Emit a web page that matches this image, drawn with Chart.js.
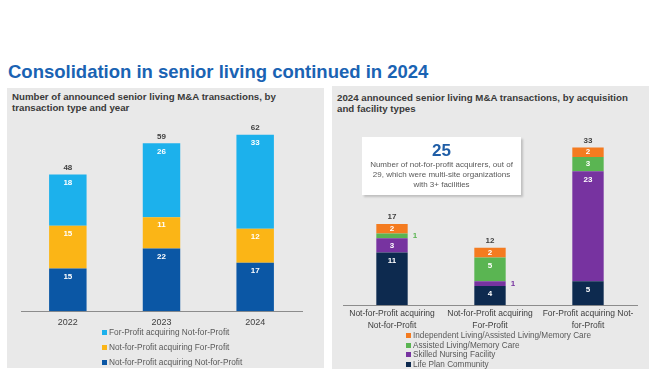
<!DOCTYPE html>
<html>
<head>
<meta charset="utf-8">
<script src="https://cdn.jsdelivr.net/npm/chart.js@4.4.1/dist/chart.umd.min.js"></script>
<style>
  html, body { margin:0; padding:0; background:#fff; width:660px; height:371px; overflow:hidden; font-family:"Liberation Sans", Arial, sans-serif; }
  .abs { position:absolute; }
  #title { left:8px; top:61px; font-size:18.5px; font-weight:bold; color:#1a63b3; white-space:nowrap; }
  .panel { position:absolute; width:317px; background:#e9e9e9; }
  .head { position:absolute; font-size:9.7px; font-weight:bold; color:#3a3a3a; line-height:11px; white-space:nowrap; }
  .legend { position:absolute; color:#595959; white-space:nowrap; }
  .legend .it { display:flex; align-items:center; }
  .legend .sw { display:inline-block; width:5px; height:5px; margin-right:2px; }
  #callout { left:362px; top:137px; width:159px; height:58px; background:#fff; box-shadow:2px 2px 2px rgba(0,0,0,0.18); text-align:center; color:#595959; font-size:8px; line-height:10px; }
  #callout .big { font-size:17px; font-weight:bold; color:#1f5da6; line-height:19px; margin-top:4px; }
</style>
</head>
<body>
<div id="title" class="abs">Consolidation in senior living continued in 2024</div>
<div class="panel" style="left:7px; top:88px; height:280px;"></div>
<div class="panel" style="left:332px; top:86px; height:283px;"></div>
<div class="head" style="left:12px; top:91px;">Number of announced senior living M&amp;A transactions, by<br>transaction type and year</div>
<div class="head" style="left:337px; top:92px;">2024 announced senior living M&amp;A transactions, by acquisition<br>and facility types</div>
<canvas id="c1" class="abs" style="left:7px; top:112px;" width="317" height="222"></canvas>
<canvas id="c2" class="abs" style="left:333px; top:114px;" width="315" height="221"></canvas>
<div id="callout" class="abs"><div class="big">25</div>Number of not-for-profit acquirers, out of<br>29, which were multi-site organizations<br>with 3+ facilities</div>
<div id="leg1" class="legend" style="left:102px; top:325px; font-size:8.3px; line-height:15px;"></div>
<div id="leg2" class="legend" style="left:406px; top:331px; font-size:8.2px; line-height:9.5px;"></div>
<script>
// ---- Left chart data ----
const years = ["2022", "2023", "2024"];
const nfpAcqNfp = [15, 22, 17];
const nfpAcqFp = [15, 11, 12];
const fpAcqNfp = [18, 26, 33];
const leftSeriesNames = ["Not-for-Profit acquiring Not-for-Profit", "Not-for-Profit acquiring For-Profit", "For-Profit acquiring Not-for-Profit"];

// ---- Right chart data ----
const acqTypes = [["Not-for-Profit acquiring", "Not-for-Profit"], ["Not-for-Profit acquiring", "For-Profit"], ["For-Profit acquiring Not-", "for-Profit"]];
const lifePlan = [11, 4, 5];
const skilledNursing = [3, 1, 23];
const assistedMemory = [1, 5, 3];
const independentAll = [2, 2, 2];
const rightSeriesNames = ["Life Plan Community", "Skilled Nursing Facility", "Assisted Living/Memory Care", "Independent Living/Assisted Living/Memory Care"];

Chart.defaults.font.family = '"Liberation Sans", Arial, sans-serif';
Chart.defaults.animation = false;

const labelPlugin = {
  id: 'segLabels',
  afterDatasetsDraw(chart) {
    const ctx = chart.ctx;
    const ds = chart.data.datasets;
    const n = chart.data.labels.length;
    ctx.save();
    ctx.font = 'bold 8px "Liberation Sans", Arial, sans-serif';
    ctx.textBaseline = 'middle';
    for (let d = 0; d < ds.length; d++) {
      const meta = chart.getDatasetMeta(d);
      meta.data.forEach((el, i) => {
        const v = ds[d].data[i];
        const top = el.y, bottom = el.base;
        const h = bottom - top;
        if (h >= 8) {
          ctx.fillStyle = '#ffffff';
          ctx.textAlign = 'center';
          ctx.fillText(String(v), el.x, Math.min(top + 8, (top + bottom) / 2));
        } else {
          ctx.fillStyle = ds[d].backgroundColor;
          ctx.textAlign = 'left';
          ctx.fillText(String(v), el.x + el.width / 2 + 5, (top + bottom) / 2);
        }
      });
    }
    // totals
    const lastMeta = chart.getDatasetMeta(ds.length - 1);
    ctx.fillStyle = '#3f3f3f';
    ctx.textAlign = 'center';
    for (let i = 0; i < n; i++) {
      let sum = 0;
      ds.forEach(s => sum += s.data[i]);
      const el = lastMeta.data[i];
      ctx.fillText(String(sum), el.x, el.y - 7);
    }
    ctx.restore();
  }
};

function makeOptions(max, bp, pad, tickPad, fs, lh) {
  return {
    responsive: false,
    maintainAspectRatio: false,
    layout: { padding: pad },
    plugins: { legend: { display: false }, tooltip: { enabled: false } },
    scales: {
      x: {
        stacked: true,
        grid: { display: false, drawTicks: false },
        border: { display: true, color: '#8c8c8c', width: 1 },
        ticks: { color: '#404040', font: { size: fs, lineHeight: lh }, padding: tickPad, maxRotation: 0, autoSkip: false }
      },
      y: { stacked: true, display: false, min: 0, max: max }
    },
    datasets: { bar: { categoryPercentage: 1, barPercentage: bp } }
  };
}

const leftColors = ['#0b57a5', '#fbb516', '#1cb1ec'];
const c1 = new Chart(document.getElementById('c1'), {
  type: 'bar',
  data: {
    labels: years,
    datasets: [
      { label: leftSeriesNames[0], data: nfpAcqNfp, backgroundColor: leftColors[0] },
      { label: leftSeriesNames[1], data: nfpAcqFp, backgroundColor: leftColors[1] },
      { label: leftSeriesNames[2], data: fpAcqNfp, backgroundColor: leftColors[2] }
    ]
  },
  options: makeOptions(70, 0.4, { left: 14, right: 22, top: 0, bottom: 0 }, 6, 9, 1.2),
  plugins: [labelPlugin]
});

const rightColors = ['#0d2a4f', '#7733a0', '#5ab552', '#f47b20'];
const c2 = new Chart(document.getElementById('c2'), {
  type: 'bar',
  data: {
    labels: acqTypes,
    datasets: [
      { label: rightSeriesNames[0], data: lifePlan, backgroundColor: rightColors[0] },
      { label: rightSeriesNames[1], data: skilledNursing, backgroundColor: rightColors[1] },
      { label: rightSeriesNames[2], data: assistedMemory, backgroundColor: rightColors[2] },
      { label: rightSeriesNames[3], data: independentAll, backgroundColor: rightColors[3] }
    ]
  },
  options: makeOptions(40, 0.32, { left: 10, right: 11, top: 0, bottom: 0 }, 3, 8.5, 1.4),
  plugins: [labelPlugin]
});

function buildLegend(chart, id) {
  const el = document.getElementById(id);
  const items = chart.data.datasets.slice().reverse();
  el.innerHTML = items.map(d => '<div class="it"><span class="sw" style="background:' + d.backgroundColor + '"></span>' + d.label + '</div>').join('');
}
buildLegend(c1, 'leg1');
buildLegend(c2, 'leg2');
</script>
</body>
</html>
